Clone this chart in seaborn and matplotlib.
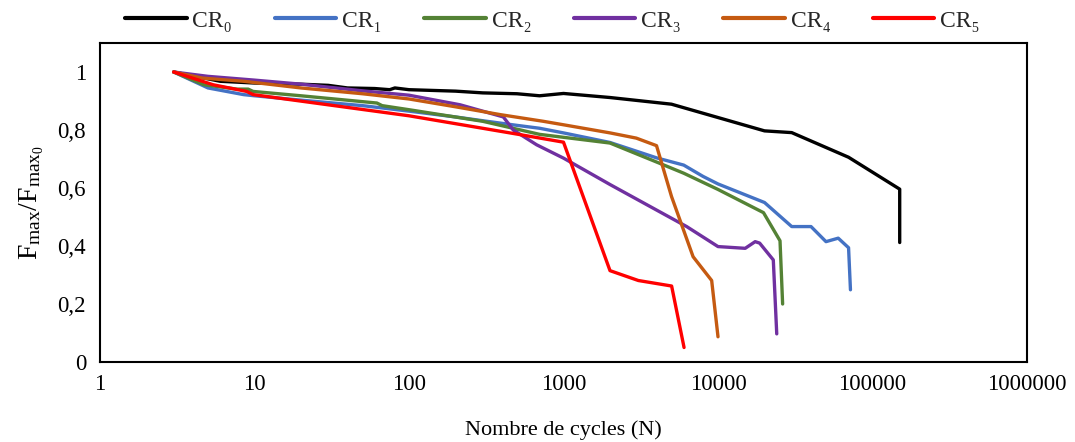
import numpy as np
import pandas as pd
import matplotlib
matplotlib.use("Agg")
import matplotlib.pyplot as plt
import seaborn as sns
from matplotlib.ticker import FuncFormatter, FixedLocator, NullLocator

# ---- data ----
n_cr0 = [3, 6, 10, 20, 30, 40, 60, 75, 81, 100, 200, 300, 500, 700, 1000, 2000, 5000, 20000, 30000, 70000, 150000, 150000]
f_cr0 = [1.0, 0.968, 0.962, 0.958, 0.954, 0.945, 0.943, 0.939, 0.945, 0.939, 0.934, 0.928, 0.925, 0.918, 0.926, 0.912, 0.889, 0.797, 0.791, 0.706, 0.596, 0.412]

n_cr1 = [3, 5, 8.5, 10, 20, 50, 100, 200, 300, 500, 700, 1000, 2000, 4000, 6000, 8000, 10000, 20000, 30000, 40000, 50000, 60000, 70000, 72000]
f_cr1 = [1.0, 0.945, 0.922, 0.918, 0.903, 0.884, 0.865, 0.845, 0.832, 0.816, 0.806, 0.79, 0.757, 0.704, 0.679, 0.64, 0.614, 0.55, 0.467, 0.467, 0.415, 0.427, 0.394, 0.249]

n_cr2 = [3, 4.7, 7.7, 9.1, 9.8, 20, 62, 67, 100, 300, 700, 2000, 4200, 6000, 10000, 19700, 25200, 26200]
f_cr2 = [1.0, 0.956, 0.941, 0.941, 0.933, 0.918, 0.893, 0.884, 0.87, 0.83, 0.785, 0.755, 0.685, 0.651, 0.595, 0.515, 0.418, 0.2]

n_cr3 = [3, 5, 10, 20, 50, 100, 214, 408, 473, 670, 1000, 2000, 6270, 10000, 15000, 17400, 18600, 22800, 24000]
f_cr3 = [1.0, 0.985, 0.972, 0.958, 0.935, 0.92, 0.887, 0.845, 0.8, 0.749, 0.703, 0.612, 0.467, 0.398, 0.392, 0.415, 0.41, 0.352, 0.097]

n_cr4 = [3, 4.6, 8.5, 20, 50, 100, 200, 390, 740, 1000, 2000, 2960, 4000, 5000, 6900, 9100, 10000]
f_cr4 = [1.0, 0.979, 0.968, 0.945, 0.925, 0.907, 0.88, 0.853, 0.83, 0.818, 0.79, 0.772, 0.746, 0.571, 0.363, 0.281, 0.087]

n_cr5 = [3, 5.4, 8.9, 9.8, 100, 524, 1000, 2000, 3050, 5010, 6030]
f_cr5 = [1.0, 0.956, 0.933, 0.922, 0.849, 0.784, 0.758, 0.315, 0.281, 0.262, 0.05]

labels = ["CR\u2080", "CR\u2081", "CR\u2082", "CR\u2083", "CR\u2084", "CR\u2085"]
colors = ["#000000", "#4472C4", "#548235", "#7030A0", "#C55A11", "#FF0000"]

x_ticks = [1, 10, 100, 1000, 10000, 100000, 1000000]
y_ticks = [0, 0.2, 0.4, 0.6, 0.8, 1.0]

series = [(n_cr0, f_cr0), (n_cr1, f_cr1), (n_cr2, f_cr2), (n_cr3, f_cr3), (n_cr4, f_cr4), (n_cr5, f_cr5)]
frames = []
for lab, (n, f) in zip(labels, series):
    d = pd.DataFrame({"N": n, "F": f})
    d["serie"] = lab
    frames.append(d)
df = pd.concat(frames, ignore_index=True)

# ---- style ----
sns.set_theme(style="white")
plt.rcParams["font.family"] = ["Liberation Serif", "DejaVu Serif"]
plt.rcParams["mathtext.fontset"] = "custom"
plt.rcParams["mathtext.rm"] = "Liberation Serif"
plt.rcParams["mathtext.it"] = "Liberation Serif"

fig = plt.figure(figsize=(10.75, 4.42), dpi=100)
ax = fig.add_axes([100 / 1075, 1 - 362 / 442, (1027 - 100) / 1075, (362 - 43) / 442])

sns.lineplot(data=df, x="N", y="F", hue="serie", hue_order=labels, palette=colors,
             estimator=None, sort=False, linewidth=2.4, ax=ax, legend=True)

ax.set_xscale("log")
ax.set_xlim(1, 1e6)
ax.set_ylim(0, 1.1)
ax.xaxis.set_major_locator(FixedLocator(x_ticks))
ax.xaxis.set_minor_locator(NullLocator())
ax.yaxis.set_major_locator(FixedLocator(y_ticks))
ax.xaxis.set_major_formatter(FuncFormatter(lambda v, p: f"{int(round(v))}"))
ax.yaxis.set_major_formatter(FuncFormatter(lambda v, p: ("%g" % round(v, 1)).replace(".", ",")))

ax.tick_params(axis="both", direction="in", length=6, width=1.3, colors="black",
               labelsize=16.5, pad=10)
ax.tick_params(axis="x", pad=9)
for s in ax.spines.values():
    s.set_visible(True)
    s.set_color("black")
    s.set_linewidth(1.5)

ax.set_xlabel("Nombre de cycles (N)", fontsize=16, color="black", labelpad=18)
ax.set_ylabel(r"$\mathregular{F_{max}/F_{max_0}}$", fontsize=20, color="black", labelpad=8)

handles, labs = ax.get_legend_handles_labels()
ax.get_legend().remove()
for h in handles:
    h.set_linewidth(3)
fig.legend(handles, labs, loc="upper center", bbox_to_anchor=(0.514, 1.025), ncol=6,
           frameon=False, fontsize=17, handlelength=2.6, columnspacing=1.8, handletextpad=0.25)

fig.savefig("out.png", dpi=100)
